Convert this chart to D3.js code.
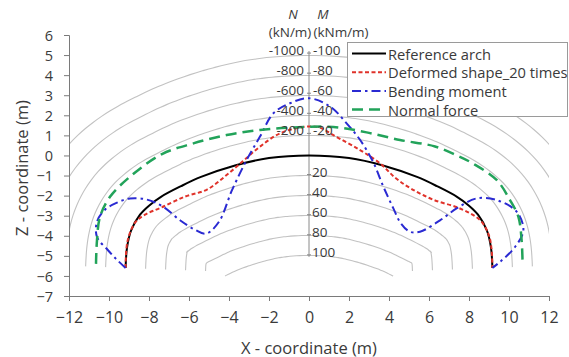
<!DOCTYPE html>
<html><head><meta charset="utf-8">
<script src="https://cdn.jsdelivr.net/npm/d3@7"></script>
<style>
body{margin:0;background:#fff}
svg{display:block}
text{font-family:"Open Sans",sans-serif;fill:#3a3a3a}
</style>
</head><body>
<svg id="c" width="569" height="357"></svg>
<script>
// ---- data (x, z in metres) ----
const archX = [-9.17,-9.1,-8.9,-8.45,-8.0,-7.4,-6.4,-5.4,-3.7,-2.0,0,2.0,3.7,5.4,6.4,7.4,8.0,8.45,8.9,9.1,9.17];
const archZ = [-5.6,-4.6,-3.75,-2.95,-2.5,-2.06,-1.53,-1.07,-0.5,-0.13,0,-0.13,-0.5,-1.07,-1.53,-2.06,-2.5,-2.95,-3.75,-4.6,-5.6];

const defX = [-9.17,-9.08,-8.7,-8.2,-7.4,-6.2,-5.1,-4.15,-3.3,-2.45,-1.45,-0.3,0.5,1.2,2.55,3.55,4.3,5.1,6.2,7.55,8.55,8.97,9.12,9.17];
const defZ = [-5.6,-4.3,-3.35,-2.95,-2.6,-2.05,-1.7,-1.0,-0.28,0.44,1.1,1.42,1.4,1.02,0.27,-0.39,-1.1,-1.65,-2.2,-2.64,-3.22,-3.9,-4.6,-5.6];

const momX = [-9.17,-9.65,-10.05,-10.6,-10.6,-10.2,-9.6,-8.95,-8.1,-7.3,-6.45,-5.7,-5.15,-4.5,-3.85,-3.12,-2.45,-1.78,-0.95,0.0,1.05,1.88,2.55,3.2,3.72,4.2,4.6,5.05,5.55,6.55,7.38,8.38,9.38,10.38,10.72,10.3,9.55,9.17];
const momZ = [-5.6,-5.15,-4.72,-4.06,-3.3,-2.7,-2.35,-2.14,-2.2,-2.55,-3.23,-3.7,-3.9,-3.3,-1.73,-0.23,0.94,2.1,2.6,2.85,2.44,1.6,0.78,-0.31,-1.56,-2.6,-3.39,-3.8,-3.8,-3.23,-2.64,-2.14,-2.22,-2.8,-3.72,-4.56,-5.3,-5.6];

const norX = [-10.65,-10.6,-10.45,-9.95,-8.95,-7.35,-5.78,-4.12,-2.45,-0.78,1.22,2.88,4.55,6.3,7.4,8.2,9.38,10.05,10.47,10.63,10.68];
const norZ = [-5.4,-4.22,-3.06,-2.06,-1.06,0.07,0.6,1.02,1.27,1.39,1.42,1.15,0.77,0.45,0.0,-0.4,-1.22,-2.22,-3.06,-4.22,-5.4];

const xTicks = [-12,-10,-8,-6,-4,-2,0,2,4,6,8,10,12];
const zTicks = [6,5,4,3,2,1,0,-1,-2,-3,-4,-5,-6,-7];
const nLabels = [-1000,-800,-600,-400,-200];   // kN/m, outward contours
const mOutLabels = [-100,-80,-60,-40,-20];     // kNm/m, outward contours
const mInLabels = [20,40,60,80,100];           // kNm/m, inward contours
const nPerMetre = 200, mPerMetre = 20;

const seriesNames = ["Reference arch","Deformed shape_20 times","Bending moment","Normal force"];
const seriesColors = ["#000000","#e0322a","#2a2ad2","#22a35a"];
const seriesDash = [null,"4,2.5","9,4,2.5,4","11,6"];
const seriesWidth = [2,2,2,2.5];

// ---- layout ----
const svg = d3.select("#c");
const x = d3.scaleLinear([-12,12],[69,549]);
const y = d3.scaleLinear([-7,6],[296,35]);
const pxPerM = x(1)-x(0);

svg.append("defs").append("clipPath").attr("id","clip")
  .append("rect").attr("x",69).attr("y",35).attr("width",480).attr("height",261);

const line = d3.line().x(d=>x(d[0])).y(d=>y(d[1])).curve(d3.curveCatmullRom.alpha(0.5));
const zip = (a,b)=>a.map((v,i)=>[v,b[i]]);

// sample arch path for offsets (contours)
const tmp = svg.append("path").attr("d", line(zip(archX,archZ))).attr("fill","none").attr("stroke","none");
const node = tmp.node();
const L = node.getTotalLength();
const samp = [];
for (let s=0; s<=L; s+=1) { const p=node.getPointAtLength(s); samp.push([p.x,p.y]); }
const lp = node.getPointAtLength(L); samp.push([lp.x,lp.y]);
tmp.remove();

function offsetCurve(dM){
  const d = dM*pxPerM;
  const pts = [];
  const n = samp.length;
  for (let i=0;i<n;i++){
    const a = samp[Math.max(0,i-3)], b = samp[Math.min(n-1,i+3)];
    let tx=b[0]-a[0], ty=b[1]-a[1]; const len=Math.hypot(tx,ty)||1; tx/=len; ty/=len;
    const nx=ty, ny=-tx; // outward
    pts.push([samp[i][0]+nx*d, samp[i][1]+ny*d]);
  }
  if (dM>=0) return pts;
  const ad = Math.abs(d);
  return pts.filter(q=>{
    let m=Infinity;
    for (const s of samp){ const dd=(q[0]-s[0])**2+(q[1]-s[1])**2; if(dd<m) m=dd; }
    return Math.sqrt(m) >= ad-0.8;
  });
}
const contourLine = d3.line().curve(d3.curveBasis);
const gC = svg.append("g").attr("clip-path","url(#clip)");
const offsets = nLabels.map(v=>-v/nPerMetre).concat(mInLabels.map(v=>-v/mPerMetre));
offsets.forEach(o=>{
  const pts = offsetCurve(o);
  const sub = pts.filter((p,i)=> i%5===0 || i===pts.length-1);
  gC.append("path").attr("d",contourLine(sub)).attr("fill","none")
    .attr("stroke","#c2c2c2").attr("stroke-width",1.1);
});

// central scale axis
const apexZ = archZ[archX.indexOf(0)];
const x0 = x(0);
svg.append("line").attr("x1",x0).attr("x2",x0)
  .attr("y1",y(apexZ+5)-4).attr("y2",y(apexZ-5)+1)
  .attr("stroke","#8a8a8a").attr("stroke-width",1);

// data series
const data = [zip(archX,archZ), zip(defX,defZ), zip(momX,momZ), zip(norX,norZ)];
data.forEach((d,i)=>{
  svg.append("path").attr("d",line(d)).attr("fill","none")
    .attr("stroke",seriesColors[i]).attr("stroke-width",seriesWidth[i])
    .attr("stroke-dasharray",seriesDash[i]).attr("stroke-linejoin","round");
});

// contour labels
const lab = svg.append("g").attr("font-size","13.5px");
nLabels.forEach((v,i)=>{
  const yy = y(apexZ - v/nPerMetre) - 5;
  lab.append("text").attr("x",x0-5).attr("y",yy).attr("text-anchor","end").attr("dominant-baseline","central").text(v);
  lab.append("text").attr("x",x0+4).attr("y",yy).attr("dominant-baseline","central").text(mOutLabels[i]);
  lab.append("line").attr("x1",x0-2).attr("x2",x0+2).attr("y1",yy+3).attr("y2",yy+3).attr("stroke","#8a8a8a");
});
mInLabels.forEach(v=>{
  const yy = y(apexZ - v/mPerMetre) - 4;
  lab.append("text").attr("x",x0+3).attr("y",yy).attr("dominant-baseline","central").text(v);
  lab.append("line").attr("x1",x0-2).attr("x2",x0+2).attr("y1",yy+3).attr("y2",yy+3).attr("stroke","#8a8a8a");
});
lab.append("text").attr("x",x0-16).attr("y",14).attr("text-anchor","middle").attr("font-style","italic").attr("dominant-baseline","central").text("N");
lab.append("text").attr("x",x0+14).attr("y",14).attr("text-anchor","middle").attr("font-style","italic").attr("dominant-baseline","central").text("M");
lab.append("text").attr("x",x0-19).attr("y",32).attr("text-anchor","middle").attr("dominant-baseline","central").text("(kN/m)");
lab.append("text").attr("x",x0+32).attr("y",32).attr("text-anchor","middle").attr("dominant-baseline","central").text("(kNm/m)");

// axes
const xAxis = svg.append("g").attr("transform","translate(0,296)")
  .call(d3.axisBottom(x).tickValues(xTicks).tickSizeOuter(0).tickSize(5).tickPadding(11));
const yAxis = svg.append("g").attr("transform","translate(69,0)")
  .call(d3.axisLeft(y).tickValues(zTicks).tickSizeOuter(0).tickSize(5).tickPadding(11));
[xAxis,yAxis].forEach(g=>{
  g.select(".domain").attr("stroke","#7a7a7a");
  g.selectAll(".tick line").attr("stroke","#7a7a7a");
  g.selectAll(".tick text").attr("font-family","Open Sans").attr("fill","#3a3a3a");
});
xAxis.selectAll(".tick text").attr("font-size","16px");
yAxis.selectAll(".tick text").attr("font-size","14.5px").attr("dy","0.35em");

svg.append("text").attr("x",x0).attr("y",347).attr("text-anchor","middle").attr("dominant-baseline","central")
  .attr("font-size","16.5px").text("X - coordinate (m)");
svg.append("text").attr("transform","translate(21,168) rotate(-90)").attr("text-anchor","middle").attr("dominant-baseline","central")
  .attr("font-size","16.5px").text("Z - coordinate (m)");

// legend
const lg = svg.append("g");
lg.append("rect").attr("x",347.5).attr("y",42.5).attr("width",220).attr("height",74)
  .attr("fill","#fff").attr("stroke","#9a9a9a");
seriesNames.forEach((nm,i)=>{
  const yy = 53.5 + i*18.7;
  lg.append("line").attr("x1",352).attr("x2",386).attr("y1",yy).attr("y2",yy)
    .attr("stroke",seriesColors[i]).attr("stroke-width",seriesWidth[i]).attr("stroke-dasharray",seriesDash[i]);
  lg.append("text").attr("x",388).attr("y",yy).attr("dominant-baseline","central").attr("font-size","14.7px").text(nm);
});
</script>
</body></html>
